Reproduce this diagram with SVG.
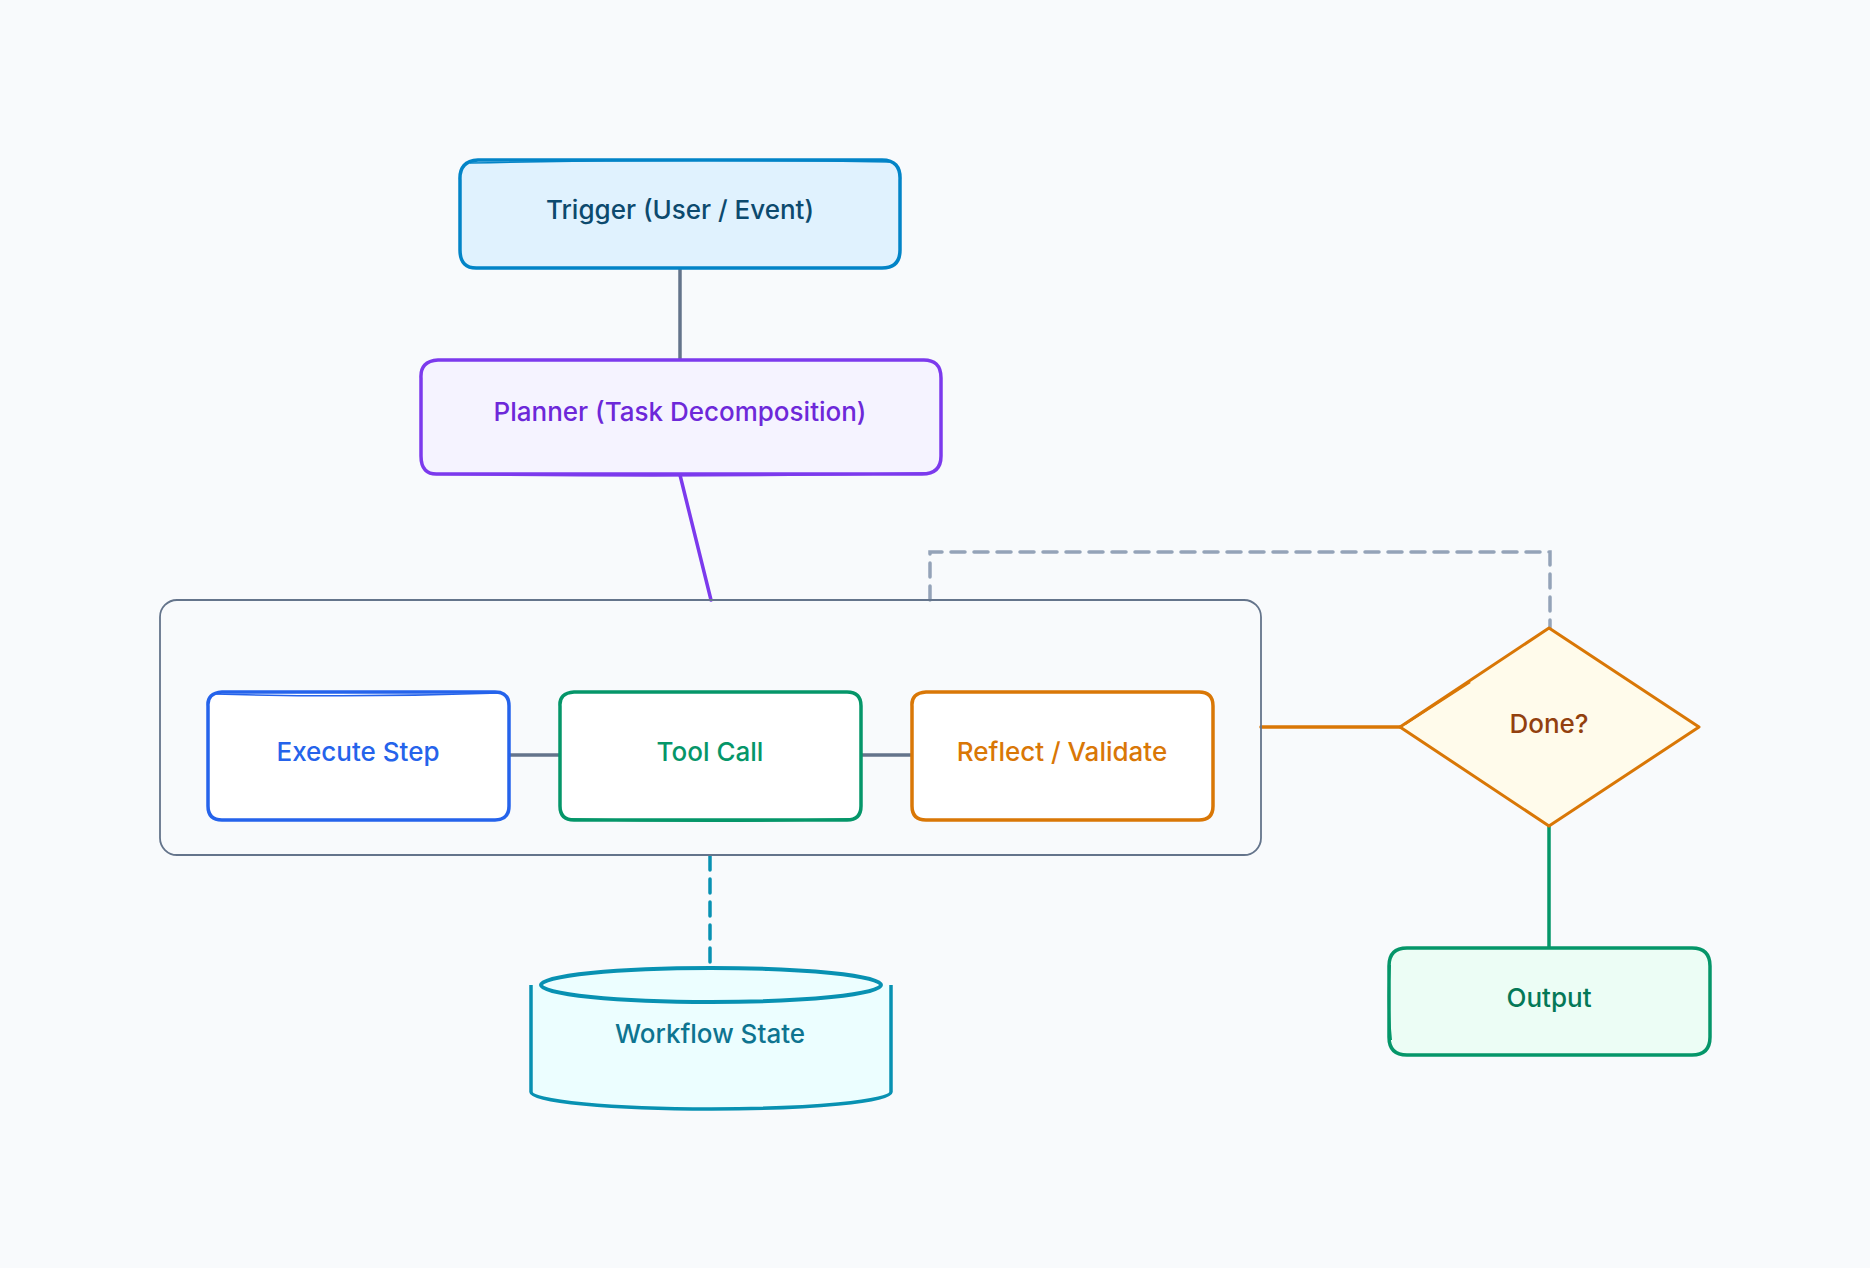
<svg xmlns="http://www.w3.org/2000/svg" width="1870" height="1268" viewBox="0 0 1870 1268">
<style>
text{font-family:Inter,"Noto Sans","Liberation Sans",sans-serif;font-size:26px;font-weight:500;text-anchor:middle;dominant-baseline:central}
.conn{fill:none;stroke-width:3.5;stroke-linecap:round}
.box{stroke-width:3.5;stroke-linejoin:round}
</style>
<rect width="1870" height="1268" fill="#f8fafc"/>
<g id="connectors">
<path class="conn" d="M680 269 V359" stroke="#64748b"/>
<path class="conn" d="M680 475 L711 600" stroke="#7c3aed"/>
<path class="conn" d="M509 755 H559" stroke="#64748b"/>
<path class="conn" d="M861 755 H911" stroke="#64748b"/>
<path class="conn" d="M1261 727 H1400" stroke="#d97706" stroke-linecap="butt"/>
<path class="conn" d="M1549 826 V948" stroke="#059669"/>
<path class="conn" d="M930 600 V552 H1550 V628" stroke="#94a3b8" stroke-dasharray="14 9"/>
<path class="conn" d="M710 856 V968" stroke="#0891b2" stroke-dasharray="14 9"/>
</g>
<g id="loop-container">
<rect x="160" y="600" width="1101" height="255" rx="17" fill="none" stroke="#64748b" stroke-width="1.8"/>
</g>
<g id="trigger">
<path class="box" d="M478 160 H882 Q901 160 900 180 V250 Q900 268 882 268 H478 Q460 269 460 250 V180 Q459 161 478 160 Z" fill="#e0f2fe" stroke="#0284c7"/>
<path d="M470 163 Q680 158 890 162" fill="none" stroke="#0284c7" stroke-width="1.5"/>
<text x="680" y="209" fill="#0c4a6e">Trigger (User / Event)</text>
</g>
<g id="planner">
<path class="box" d="M438 360 H922 Q941 359 941 378 V456 Q941 474 922 474 H438 Q421 475 421 456 V378 Q420 361 438 360 Z" fill="#f5f3ff" stroke="#7c3aed"/>
<path d="M430 474 Q680 478 930 473" fill="none" stroke="#7c3aed" stroke-width="2"/>
<text x="680" y="411" fill="#6d28d9">Planner (Task Decomposition)</text>
</g>
<g id="execute">
<path class="box" d="M222 692 H495 Q509 692 509 706 V806 Q509 820 495 820 H222 Q208 820 208 806 V706 Q207 693 222 692 Z" fill="#ffffff" stroke="#2563eb"/>
<path d="M215 694 Q358 698 500 693" fill="none" stroke="#2563eb" stroke-width="1.5"/>
<text x="358" y="751" fill="#2563eb">Execute Step</text>
</g>
<g id="toolcall">
<path class="box" d="M574 692 H847 Q861 692 861 706 V806 Q861 820 847 820 H574 Q560 820 560 806 V706 Q559 693 574 692 Z" fill="#ffffff" stroke="#059669"/>
<path d="M568 819 Q710 823 850 819" fill="none" stroke="#059669" stroke-width="2"/>
<text x="710" y="751" fill="#059669">Tool Call</text>
</g>
<g id="reflect">
<path class="box" d="M926 692 H1199 Q1213 692 1213 706 V806 Q1213 820 1199 820 H926 Q912 820 912 806 V706 Q911 693 926 692 Z" fill="#ffffff" stroke="#d97706"/>
<text x="1062" y="751" fill="#d97706">Reflect / Validate</text>
</g>
<g id="done">
<path d="M1549 628 L1699 727 L1549 826 L1400 727 Z" fill="#fffbeb" stroke="#d97706" stroke-width="3" stroke-linejoin="round"/>
<path d="M1405 724 L1470 682" fill="none" stroke="#d97706" stroke-width="2.5"/>
<text x="1549" y="723" fill="#92400e">Done?</text>
</g>
<g id="output">
<path class="box" d="M1407 948 H1692 Q1710 948 1710 966 V1037 Q1710 1055 1692 1055 H1407 Q1389 1055 1389 1037 V966 Q1389 948 1407 948 Z" fill="#ecfdf5" stroke="#059669"/>
<path d="M1390 965 Q1387 1000 1391 1040" fill="none" stroke="#059669" stroke-width="2"/>
<text x="1549" y="997" fill="#047857">Output</text>
</g>
<g id="workflow-state">
<path class="box" d="M531 985 V1092 A180 17 0 0 0 891 1092 V985" fill="#ecfeff" stroke="#0891b2"/>
<ellipse cx="711" cy="985" rx="170" ry="17" fill="#ecfeff" stroke="#0891b2" stroke-width="4"/>
<path d="M765 970 Q800 969 830 973" fill="none" stroke="#0891b2" stroke-width="2"/>
<text x="710" y="1033" fill="#0e7490">Workflow State</text>
</g>
</svg>
